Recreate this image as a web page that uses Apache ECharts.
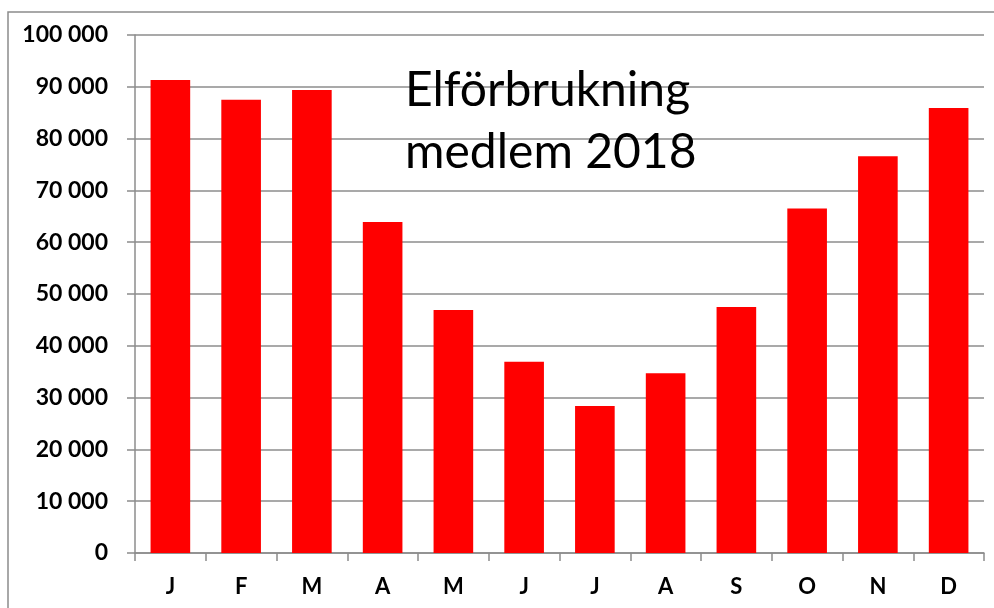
<!DOCTYPE html>
<html>
<head>
<meta charset="utf-8">
<script src="https://cdn.jsdelivr.net/npm/echarts@6/dist/echarts.min.js"></script>
<style>html,body{margin:0;padding:0;background:#fff;}#c{width:994px;height:608px;}</style>
</head>
<body>
<div id="c"></div>
<script>
const categories = ['J','F','M','A','M','J','J','A','S','O','N','D'];
const values = [91300, 87500, 89400, 63900, 46900, 36900, 28400, 34700, 47500, 66500, 76600, 85900];
const titleText = 'Elförbrukning\nmedlem 2018';

const chart = echarts.init(document.getElementById('c'), null, {renderer: 'canvas'});
const gray = '#8c8c8c';
chart.setOption({
  animation: false,
  backgroundColor: '#fff',
  title: {
    text: titleText,
    left: 400, top: 55,
    textStyle: {fontFamily: 'Lato', fontWeight: 'normal', fontSize: 48, lineHeight: 62, color: '#000'}
  },
  graphic: [{
    type: 'rect', shape: {x: 8, y: 12, width: 1100, height: 800},
    style: {fill: 'none', stroke: gray, lineWidth: 1.5}, silent: true
  }],
  grid: {left: 135, right: 10, top: 35, bottom: 55, containLabel: false},
  xAxis: {
    type: 'category', data: categories,
    axisLine: {lineStyle: {color: gray, width: 1.5}},
    axisTick: {show: true, length: 8, lineStyle: {color: gray, width: 1.5}},
    axisLabel: {margin: 23, fontFamily: 'Lato', fontWeight: 'bold', fontSize: 22, color: '#000'}
  },
  yAxis: {
    type: 'value', min: 0, max: 100000, interval: 10000,
    axisLine: {show: true, lineStyle: {color: gray, width: 1.5}},
    axisTick: {show: true, length: 8, lineStyle: {color: gray, width: 1.5}},
    splitLine: {lineStyle: {color: gray, width: 1.5}},
    axisLabel: {
      margin: 27, fontFamily: 'Lato', fontWeight: 'bold', fontSize: 23, color: '#000',
      formatter: v => String(v).replace(/\B(?=(\d{3})+(?!\d))/g, ' ')
    }
  },
  series: [{
    type: 'bar', data: values, barCategoryGap: '44%',
    itemStyle: {color: '#ff0000'}
  }]
});
</script>
</body>
</html>
